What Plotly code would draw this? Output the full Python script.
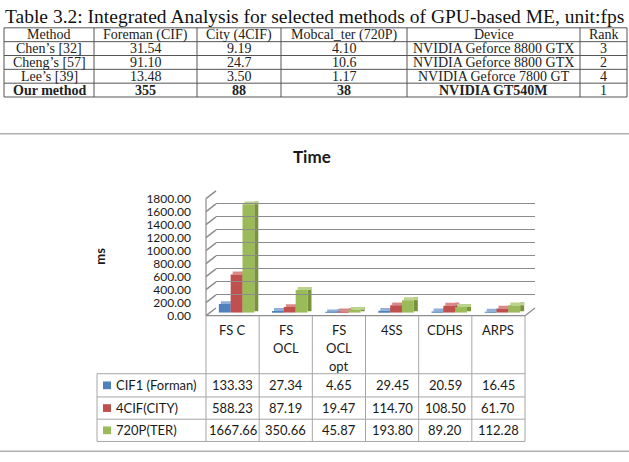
import plotly.graph_objects as go

# ---------------- data ----------------
categories = ["FS C", "FS<br>OCL", "FS<br>OCL<br>opt", "4SS", "CDHS", "ARPS"]
series_names = ["CIF1 (Forman)", "4CIF(CITY)", "720P(TER)"]
cif1_forman = [133.33, 27.34, 4.65, 29.45, 20.59, 16.45]
cif4_city = [588.23, 87.19, 19.47, 114.70, 108.50, 61.70]
p720_ter = [1667.66, 350.66, 45.87, 193.80, 89.20, 112.28]
y_ticks = [0, 200, 400, 600, 800, 1000, 1200, 1400, 1600, 1800]

caption = "Table 3.2: Integrated Analysis for selected methods of GPU-based ME, unit:fps"
tbl_header = ["Method", "Foreman (CIF)", "City (4CIF)", "Mobcal_ter (720P)", "Device", "Rank"]
tbl_method = ["Chen\u2019s [32]", "Cheng\u2019s [57]", "Lee\u2019s [39]", "Our method"]
tbl_foreman = ["31.54", "91.10", "13.48", "355"]
tbl_city = ["9.19", "24.7", "3.50", "88"]
tbl_mobcal = ["4.10", "10.6", "1.17", "38"]
tbl_device = ["NVIDIA Geforce 8800 GTX", "NVIDIA Geforce 8800 GTX", "NVIDIA Geforce 7800 GT", "NVIDIA GT540M"]
tbl_rank = ["3", "2", "4", "1"]

# ---------------- layout helpers ----------------
W, H = 629, 462
def fx(x): return x / W
def fy(y): return 1 - y / H

series = [cif1_forman, cif4_city, p720_ter]
front = ["#4F81BD", "#C0504D", "#9BBB59"]
side = ["#3A6394", "#973C3A", "#77933C"]
top = ["#8FB0DA", "#D98A88", "#BBD38C"]

# geometry (pixels)
FX0, FX1, FY0, FY1 = 206, 525, 318, 197      # front plane
BDX, BDY = 4, 3                               # bar front offset
DDX, DDY = 4, 3                               # bar depth
WDX, WDY = 10, 8                              # back wall offset
YMAX = 1800
ncat = len(categories)
cat_px = (FX1 - FX0) / ncat
ddx = DDX / cat_px
ddy = DDY * YMAX / (FY0 - FY1)
G = 0.667
bw = G / 3

fig = go.Figure()
x = list(range(ncat))
for i, vals in enumerate(series):
    left = -G / 2 + i * bw
    # side face
    fig.add_trace(go.Bar(x=x, y=[v + ddy * 0.5 for v in vals], base=ddy * 0.5,
                         offset=left + bw, width=ddx, marker=dict(color=side[i], line=dict(width=0)),
                         showlegend=False, hoverinfo="skip"))
    # top face
    fig.add_trace(go.Bar(x=x, y=[ddy] * ncat, base=vals,
                         offset=left + ddx * 0.5, width=bw + ddx * 0.5,
                         marker=dict(color=top[i], line=dict(width=0)),
                         showlegend=False, hoverinfo="skip"))
    # front face
    fig.add_trace(go.Bar(x=x, y=vals, offset=left, width=bw, name=series_names[i],
                         marker=dict(color=front[i], line=dict(width=0)), showlegend=False))

# dummy traces for the front plane and back wall axes
fig.add_trace(go.Scatter(x=[None], y=[None], xaxis="x2", yaxis="y2", showlegend=False))
fig.add_trace(go.Scatter(x=[None], y=[None], xaxis="x3", yaxis="y3", showlegend=False))

fig.update_layout(
    width=W, height=H, autosize=False,
    margin=dict(l=0, r=0, t=0, b=0),
    paper_bgcolor="white", plot_bgcolor="rgba(0,0,0,0)",
    barmode="overlay",
    font=dict(family="Lato", size=13, color="#1a1a1a"),
    xaxis=dict(domain=[fx(FX0 + BDX), fx(FX1 + BDX)], range=[-0.5, ncat - 0.5], visible=False,
               anchor="y"),
    yaxis=dict(domain=[fy(FY0 - BDY), fy(FY1 - BDY)], range=[0, YMAX], visible=False, anchor="x"),
    xaxis2=dict(domain=[fx(FX0), fx(FX1)], range=[-0.5, ncat - 0.5], visible=False, anchor="y2"),
    yaxis2=dict(domain=[fy(FY0), fy(FY1)], range=[0, YMAX], anchor="x2",
                tickvals=y_ticks, tickformat=".2f", showgrid=False, zeroline=False,
                showline=False, ticks="", ticklabelstandoff=14,
                tickfont=dict(family="Lato", size=12, color="#1a1a1a")),
    xaxis3=dict(domain=[fx(FX0 + WDX), fx(FX1 + WDX)], range=[-0.5, ncat - 0.5], visible=False,
                anchor="y3"),
    yaxis3=dict(domain=[fy(FY0 - WDY), fy(FY1 - WDY)], range=[0, YMAX], anchor="x3",
                tickvals=y_ticks, showticklabels=False, showgrid=True, gridcolor="#8c8c8c",
                gridwidth=1.4, zeroline=False, showline=False, ticks=""),
)

shapes = []
def line(x0, y0, x1, y1, color="#8c8c8c", width=1.2):
    shapes.append(dict(type="line", xref="paper", yref="paper", x0=fx(x0), y0=fy(y0),
                       x1=fx(x1), y1=fy(y1), line=dict(color=color, width=width), layer="below"))

# side wall diagonals and wall front edge
for t in y_ticks:
    yf = FY0 - t * (FY0 - FY1) / YMAX
    line(FX0, yf, FX0 + WDX, yf - WDY, width=1.4)
line(FX0, FY1, FX0, FY0, width=1.2)
# floor
line(FX0, FY0, FX1, FY0, width=1.2)
line(FX1, FY0, FX1 + WDX, FY0 - WDY, width=1.2)

# data table below the chart
ROWS = [378, 402, 425, 448]
tcolor = "#a6a6a6"
for k in range(ncat + 1):
    xx = FX0 + cat_px * k
    line(xx, FY0, xx, ROWS[-1], color=tcolor, width=1)
line(97, ROWS[0], 97, ROWS[-1], color=tcolor, width=1)
for r in ROWS:
    line(97, r, FX1, r, color=tcolor, width=1)

# chart box lines
line(0, 130, W, 130, color="#b0b0b0", width=1.5)
line(0, 458, W, 458, color="#b0b0b0", width=1.5)

annotations = []
def text(x, y, s, size=13, bold=False, xanchor="center", family="Lato", color="#1a1a1a", angle=0):
    annotations.append(dict(x=fx(x), y=fy(y), xref="paper", yref="paper", text=s, showarrow=False,
                            xanchor=xanchor, yanchor="middle", textangle=angle,
                            font=dict(family=family, size=size, color=color,
                                      weight="bold" if bold else "normal")))

# category labels (multi line)
for k, c in enumerate(categories):
    cx = FX0 + cat_px * (k + 0.5)
    for li, part in enumerate(c.split("<br>")):
        text(cx, 333 + li * 18.5, part)

# data rows
for i, vals in enumerate(series):
    cy = (ROWS[i] + ROWS[i + 1]) / 2
    shapes.append(dict(type="rect", xref="paper", yref="paper", x0=fx(103), x1=fx(111),
                       y0=fy(cy - 4), y1=fy(cy + 4), fillcolor=front[i], line=dict(width=0)))
    text(114, cy, series_names[i], xanchor="left")
    for k, v in enumerate(vals):
        text(FX0 + cat_px * (k + 0.5), cy, f"{v:.2f}")

text(312, 153, "Time", size=17, bold=True)
text(100, 257, "ms", size=13, bold=True, angle=-90)

# ---------------- top LaTeX table ----------------
serif = "Liberation Serif"
text(314, 9, caption, size=19.5, family=serif, color="#111")
COLS = [4, 94, 197, 281, 407, 580, 627]
LROWS = [20.5, 34.8, 49.1, 63.4, 77.7, 92]
lcol = "#555555"
for r in LROWS:
    line(COLS[0], r, COLS[-1], r, color=lcol, width=1)
for c in COLS:
    line(c, LROWS[0], c, LROWS[-1], color=lcol, width=1)
tbl_cols = [tbl_method, tbl_foreman, tbl_city, tbl_mobcal, tbl_device, tbl_rank]
for k in range(6):
    cx = (COLS[k] + COLS[k + 1]) / 2
    text(cx, (LROWS[0] + LROWS[1]) / 2, tbl_header[k], size=14, family=serif, color="#222")
    for r in range(4):
        cy = (LROWS[r + 1] + LROWS[r + 2]) / 2
        bold = (r == 3 and k < 5)
        text(cx, cy, tbl_cols[k][r], size=14, family=serif, color="#222", bold=bold)

fig.update_layout(shapes=shapes, annotations=annotations)
fig.write_html("out.html")
